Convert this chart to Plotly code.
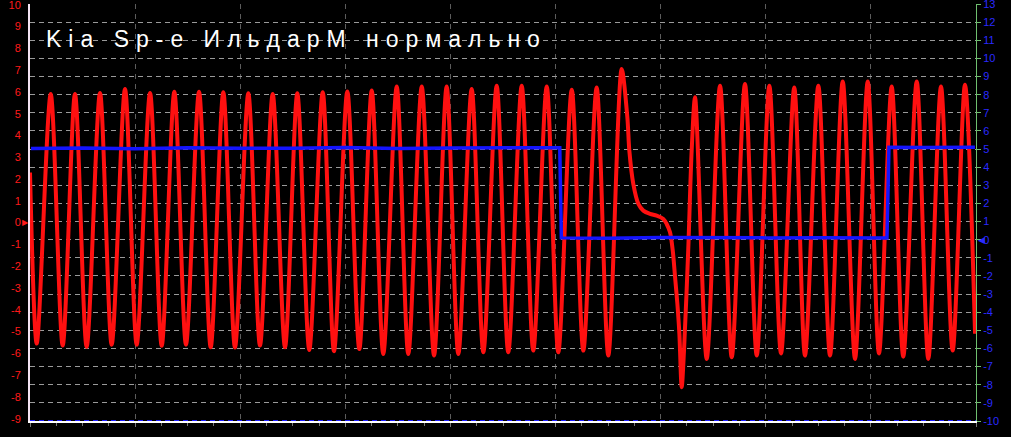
import plotly.graph_objects as go

# ---- data (time in ms, 10 ms per division) ----
red_t = [0.00, 0.64, 1.97, 3.11, 4.28, 5.39, 6.66, 7.77, 9.04, 10.15, 11.42, 12.53,
         13.73, 14.84, 16.08, 17.19, 18.39, 19.50, 20.77, 21.88, 23.09, 24.26, 25.43,
         26.57, 27.85, 28.92, 30.19, 31.33, 32.51, 33.61, 34.89, 35.99, 37.27, 38.44,
         39.64, 40.75, 42.02, 43.13, 44.40, 45.50, 46.78, 47.88, 49.16, 50.26, 51.54,
         52.64, 53.91, 55.02, 56.29, 56.83, 57.02, 57.40, 57.88, 58.35, 58.99, 59.62,
         60.25, 60.57, 60.89, 61.15, 61.37, 61.59, 61.78, 62.00, 62.22, 62.62, 62.95,
         63.27, 64.38, 65.65, 66.76, 68.02, 69.14, 70.34, 71.45, 72.71, 73.73, 75.00,
         76.11, 77.32, 78.49, 79.70, 80.77, 81.98, 83.08, 84.36, 85.46, 86.67, 87.78,
         88.95, 89.91]
red_v = [2.3, -5.55, 5.9, -5.64, 5.9, -5.7, 5.95, -5.6, 6.13, -5.6, 5.95, -5.65,
         6.0, -5.6, 6.0, -5.72, 5.98, -5.73, 5.93, -5.64, 5.9, -5.72, 5.93,
         -5.84, 5.98, -5.9, 6.02, -5.8, 6.06, -6.03, 6.24, -6.03, 6.24, -6.1,
         6.24, -6.03, 6.13, -5.95, 6.28, -5.95, 6.28, -5.87, 6.24, -5.95, 6.1,
         -5.87, 6.2, -6.1, 7.05, 4.83, 3.3, 1.77, 0.86, 0.55, 0.4, 0.32,
         0.17, -0.06, -0.44, -1.28, -2.5, -3.73, -5.1, -7.55, -5.87, -1.28, 3.3,
         5.75, -6.25, 6.28, -6.18, 6.36, -6.1, 6.28, -6.0, 6.2, -6.1, 6.28,
         -6.1, 6.48, -6.25, 6.48, -6.0, 6.24, -6.15, 6.48, -6.25, 6.24, -5.87,
         6.33, -5.1]

blue_t = [0.1, 5, 10, 15, 20, 25, 30, 35, 40, 45, 50.40, 50.55, 55, 60, 65, 70, 75,
          80, 81.53, 81.72, 85, 89.9]
blue_v = [5.03, 5.06, 5.02, 5.07, 5.05, 5.04, 5.08, 5.03, 5.06, 5.05, 5.07, 0.10,
          0.08, 0.12, 0.09, 0.10, 0.11, 0.08, 0.10, 5.10, 5.08, 5.10]

left_ticks = list(range(-9, 11))
right_ticks = list(range(-10, 14))
title_text = "Kia Sp-e ИльдарМ нормально"

FONT = "Liberation Sans, Arial, sans-serif"

fig = go.Figure()
fig.add_trace(go.Scatter(x=red_t, y=red_v, mode="lines",
                         line=dict(color="#ff1010", width=4, shape="spline",
                                   smoothing=0.85),
                         yaxis="y", hoverinfo="skip"))
fig.add_trace(go.Scatter(x=blue_t, y=blue_v, mode="lines",
                         line=dict(color="#1414ff", width=3.5), yaxis="y2",
                         hoverinfo="skip"))

fig.update_layout(
    width=1011, height=437,
    margin=dict(l=30, r=35, t=4, b=16, pad=0, autoexpand=False),
    paper_bgcolor="black", plot_bgcolor="black",
    showlegend=False,
    font=dict(family=FONT),
    xaxis=dict(range=[0, 90], dtick=10, tick0=0, showgrid=True, automargin=False,
               gridcolor="#5c5c5c", griddash="5px,5px", gridwidth=1,
               showticklabels=False, ticks="outside", ticklen=4, tickcolor="#777777",
               minor=dict(dtick=2.5, ticks="outside", ticklen=3, tickcolor="#777777",
                          showgrid=False),
               showline=True, linecolor="white", linewidth=2, zeroline=False),
    yaxis=dict(range=[-9.1, 10.03], tickmode="array", tickvals=left_ticks,
               ticktext=[str(v) for v in left_ticks], automargin=False,
               showgrid=False, zeroline=False, showline=True,
               linecolor="#f4e4f4", linewidth=2, ticks="",
               tickfont=dict(color="#ff1a1a", size=11, family=FONT),
               ticklabelstandoff=5, ticklabeloverflow="allow"),
    yaxis2=dict(range=[-10, 13], overlaying="y", side="right", automargin=False,
                tickmode="array", tickvals=right_ticks,
                ticktext=[str(v) for v in right_ticks],
                showgrid=True, gridcolor="#9a9a9a", griddash="5px,4px", gridwidth=1,
                zeroline=False, showline=True, linecolor="#6fbf6f", linewidth=1,
                ticks="outside", ticklen=4, tickcolor="#6fbf6f",
                tickfont=dict(color="#2a2aff", size=11, family=FONT),
                ticklabeloverflow="allow"),
    shapes=[dict(type="line", xref="paper", x0=0, x1=1, yref="y2", y0=-10, y1=-10,
                 line=dict(color="#1a1aff", width=2, dash="5px,4px"), layer="above")],
    annotations=[
        dict(text=title_text, xref="paper", yref="paper", x=0.282, y=0.914,
             xanchor="center", yanchor="middle", showarrow=False, yshift=1,
             font=dict(color="white", size=23, family=FONT)),
        dict(text="▶", xref="paper", yref="y", x=0, y=0, xanchor="right",
             yanchor="middle", showarrow=False, xshift=1,
             font=dict(color="#ff1a1a", size=8, family="DejaVu Sans")),
        dict(text="◀", xref="paper", yref="y2", x=1, y=0, xanchor="left",
             yanchor="middle", showarrow=False, xshift=0,
             font=dict(color="#2a2aff", size=9, family="DejaVu Sans")),
    ],
)

post = ("document.body.style.margin='0';document.body.style.overflow='hidden';"
        "document.querySelectorAll('g.annotation text').forEach(function(t){"
        "if(t.textContent.indexOf('Kia')===0){t.style.letterSpacing='7px';}});")
fig.write_html("out.html", post_script=post, config={"displayModeBar": False})
